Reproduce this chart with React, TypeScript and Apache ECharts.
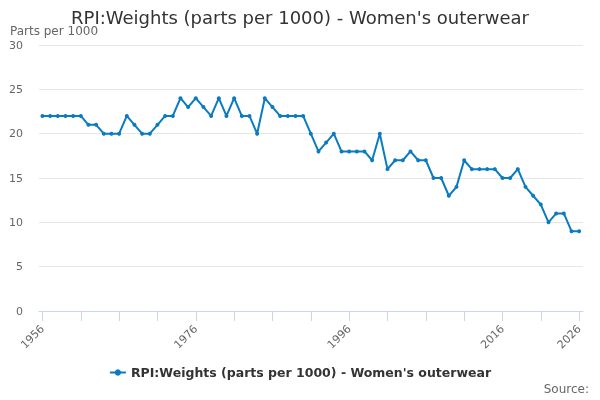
import React, { useEffect, useRef } from "react";
import * as echarts from "echarts";

const TITLE = "RPI:Weights (parts per 1000) - Women's outerwear";
const SERIES_NAME = "RPI:Weights (parts per 1000) - Women's outerwear";
const Y_AXIS_TITLE = "Parts per 1000";
const SOURCE_TEXT = "Source:";

const years: number[] = [
  1956, 1957, 1958, 1959, 1960, 1961, 1962, 1963, 1964, 1965,
  1966, 1967, 1968, 1969, 1970, 1971, 1972, 1973, 1974, 1975,
  1976, 1977, 1978, 1979, 1980, 1981, 1982, 1983, 1984, 1985,
  1986, 1987, 1988, 1989, 1990, 1991, 1992, 1993, 1994, 1995,
  1996, 1997, 1998, 1999, 2000, 2001, 2002, 2003, 2004, 2005,
  2006, 2007, 2008, 2009, 2010, 2011, 2012, 2013, 2014, 2015,
  2016, 2017, 2018, 2019, 2020, 2021, 2022, 2023, 2024, 2025,
  2026,
];

const values: number[] = [
  22, 22, 22, 22, 22, 22, 21, 21, 20, 20,
  20, 22, 21, 20, 20, 21, 22, 22, 24, 23,
  24, 23, 22, 24, 22, 24, 22, 22, 20, 24,
  23, 22, 22, 22, 22, 20, 18, 19, 20, 18,
  18, 18, 18, 17, 20, 16, 17, 17, 18, 17,
  17, 15, 15, 13, 14, 17, 16, 16, 16, 16,
  15, 15, 16, 14, 13, 12, 10, 11, 11, 9,
  9,
];

const xTickValues: number[] = [1956, 1961, 1966, 1971, 1976, 1981, 1986, 1991, 1996, 2001, 2006, 2011, 2016, 2021, 2026];
const xLabelValues: number[] = [1956, 1976, 1996, 2016, 2026];

const FONT = "'DejaVu Sans', sans-serif";
const LINE_COLOR = "#0b7bc1";

export default function App() {
  const ref = useRef<HTMLDivElement>(null);

  useEffect(() => {
    if (!ref.current) return;
    const chart = echarts.init(ref.current, null, { renderer: "svg" });
    const data = years.map((y, i) => [y, values[i]]);
    chart.setOption({
      animation: false,
      textStyle: { fontFamily: FONT },
      title: {
        text: TITLE,
        left: "center",
        top: 3,
        textStyle: { fontFamily: FONT, fontSize: 18, fontWeight: "normal", color: "#333333" },
      },
      grid: { left: 39, right: 17, top: 45, bottom: 89, containLabel: false },
      xAxis: {
        type: "value",
        min: 1955.55,
        max: 2026.5,
        axisLine: { show: true, lineStyle: { color: "#ccd6eb", width: 1 } },
        axisTick: {
          show: true,
          length: 10,
          lineStyle: { color: "#ccd6eb" },
          customValues: xTickValues,
        },
        axisLabel: {
          customValues: xLabelValues,
          rotate: 45,
          margin: 16,
          color: "#666666",
          fontSize: 11,
          fontFamily: FONT,
          formatter: (v: number) => String(Math.round(v)),
        },
        splitLine: { show: false },
      },
      yAxis: {
        type: "value",
        min: 0,
        max: 30,
        interval: 5,
        axisLine: { show: false },
        axisTick: { show: false },
        axisLabel: { color: "#666666", fontSize: 11, margin: 16, fontFamily: FONT },
        splitLine: { lineStyle: { color: "#e6e6e6", width: 1 } },
      },
      legend: {
        bottom: 16,
        left: "center",
        itemWidth: 16,
        itemHeight: 8,
        itemGap: 4,
        textStyle: { fontFamily: FONT, fontSize: 12.5, fontWeight: "bold", color: "#333333" },
        data: [SERIES_NAME],
      },
      graphic: [
        {
          type: "text",
          left: 10,
          top: 25,
          style: { text: Y_AXIS_TITLE, fontFamily: FONT, fontSize: 12, fill: "#666666" },
        },
        {
          type: "text",
          right: 11,
          top: 383,
          style: { text: SOURCE_TEXT, fontFamily: FONT, fontSize: 12, fill: "#666666" },
        },
      ],
      series: [
        {
          name: SERIES_NAME,
          type: "line",
          data,
          symbol: "circle",
          symbolSize: 4,
          showSymbol: true,
          itemStyle: { color: LINE_COLOR },
          lineStyle: { color: LINE_COLOR, width: 2 },
        },
      ],
    });
    return () => chart.dispose();
  }, []);

  return (
    <div
      ref={ref}
      style={{ position: "fixed", left: 0, top: 0, width: 600, height: 400 }}
    />
  );
}
